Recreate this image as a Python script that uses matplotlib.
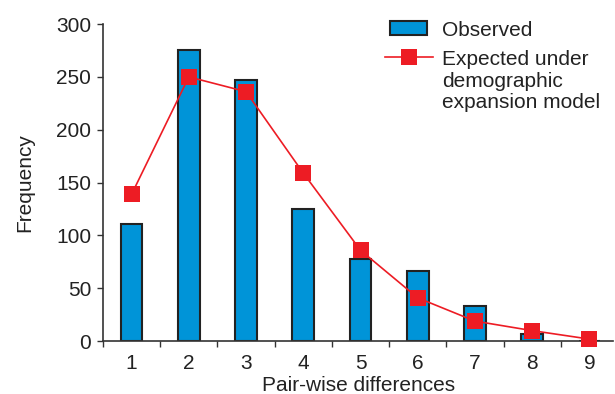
import matplotlib
matplotlib.use("Agg")
import matplotlib.pyplot as plt
from matplotlib.lines import Line2D
import numpy as np

plt.rcParams['font.family'] = ['Liberation Sans', 'DejaVu Sans']

differences = [1, 2, 3, 4, 5, 6, 7, 8, 9]
observed = [111, 275, 247, 125, 78, 66, 33, 7, 0]
expected = [139, 250, 236, 159, 86, 41, 19, 10, 2]
y_ticks = [0, 50, 100, 150, 200, 250, 300]

FS = 15
fig = plt.figure(figsize=(6.15, 3.94), dpi=100)
ax = fig.add_axes([0.1675, 0.134, 0.83, 0.805])

bars = ax.bar(differences, observed, width=0.38, color='#0094d8', edgecolor='#222222',
              linewidth=1.5, zorder=2)
line, = ax.plot(differences, expected, color='#ed1c24', linewidth=1.2, marker='s',
                markersize=11.5, markeredgewidth=0, zorder=3, clip_on=False)

ax.set_xlim(0.5, 9.42)
ax.set_ylim(0, 300)
ax.set_yticks(y_ticks)
ax.set_xticks(np.arange(0.5, 9.0, 1.0))
ax.set_xticklabels([])
ax.set_xticks(differences, minor=True)
ax.set_xticklabels([str(d) for d in differences], minor=True)
ax.tick_params(axis='x', which='major', direction='out', length=4.5, width=1, color='#333333')
ax.tick_params(axis='x', which='minor', length=0, labelsize=FS, pad=9, labelcolor='#222222')
ax.tick_params(axis='y', direction='out', length=4.5, width=1, labelsize=FS, pad=4,
               color='#333333', labelcolor='#222222')

for s in ['top', 'right']:
    ax.spines[s].set_visible(False)
for s in ['left', 'bottom']:
    ax.spines[s].set_linewidth(1.2)
    ax.spines[s].set_color('#333333')

ax.set_xlabel('Pair-wise differences', fontsize=FS, color='#222222', labelpad=2.5)
ax.set_ylabel('Frequency', fontsize=FS, color='#222222', labelpad=16)

W, H = 615, 394
fig.legend([bars], ['Observed'], loc='center left',
           bbox_to_anchor=(390 / W, 1 - 30 / H), frameon=False, fontsize=FS,
           handlelength=1.78, handleheight=0.67, handletextpad=0.72,
           borderaxespad=0, borderpad=0, labelcolor='#222222')
blank = Line2D([], [], color='none')
fig.legend([line, blank, blank], ['Expected under', 'demographic', 'expansion model'],
           loc='center left', bbox_to_anchor=(385 / W, 1 - 81 / H), frameon=False,
           fontsize=FS, handlelength=2.3, handletextpad=0.43, labelspacing=0.14,
           borderaxespad=0, borderpad=0, labelcolor='#222222')

fig.savefig('out.png', dpi=100)
